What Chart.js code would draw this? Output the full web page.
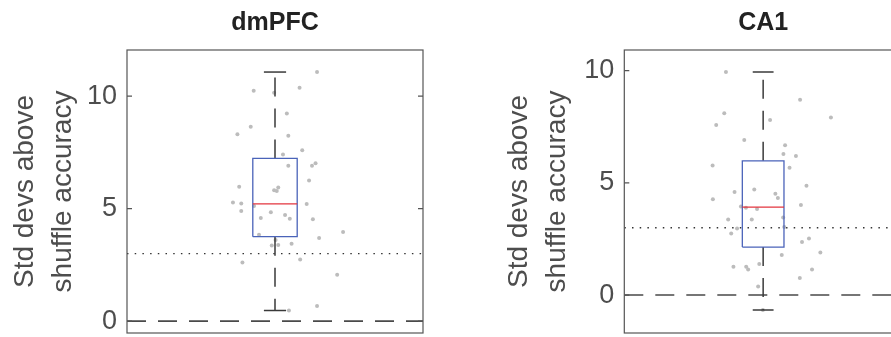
<!DOCTYPE html>
<html><head><meta charset="utf-8">
<script src="https://cdn.jsdelivr.net/npm/chart.js@4/dist/chart.umd.min.js"></script>
<style>
html,body{margin:0;padding:0;background:#fff;overflow:hidden;}
#wrap{position:relative;width:891px;height:337px;overflow:hidden;background:#fff;}
canvas{position:absolute;top:0;}
#c1{left:0;}
#c2{left:445px;}
</style></head><body>
<div id="wrap"><canvas id="c1" width="445" height="337"></canvas><canvas id="c2" width="480" height="337"></canvas></div>
<script>
// ---------- data ----------
const panelTitles = ['dmPFC', 'CA1'];
const yAxisTitle = ['Std devs above', 'shuffle accuracy'];
const yTickValues = [0, 5, 10];
const xLimits = [0.5, 1.5];
const zeroLineValue = 0;
const thresholdValue = 3;
const pfcYLimits = [-0.53, 12.05];
const ca1YLimits = [-1.69, 10.92];
// [lower whisker, Q1, median, Q3, upper whisker]
const pfcStats = [0.47, 3.75, 5.21, 7.23, 11.07];
const ca1Stats = [-0.67, 2.14, 3.92, 5.98, 9.94];
// jittered x positions and values of individual sessions
const pfcJitter = [1.142, 0.928, 0.997, 1.083, 1.040, 0.918, 0.873, 1.045, 1.092, 1.027,
  1.045, 1.125, 1.137, 1.115, 0.879, 0.997, 1.011, 1.006, 0.858, 0.886,
  0.929, 1.107, 0.886, 0.986, 0.952, 1.034, 1.050, 1.128, 1.230, 0.946,
  1.149, 1.002, 0.989, 1.011, 1.056, 1.085, 0.890, 1.210, 1.142, 1.047];
const pfcValues = [11.07, 10.24, 10.15, 10.37, 9.23, 8.64, 8.31, 8.24, 7.59, 7.41,
  6.90, 6.90, 7.02, 6.25, 5.97, 5.82, 5.94, 5.78, 5.27, 5.23,
  5.11, 5.20, 4.89, 4.84, 4.58, 4.71, 4.55, 4.53, 3.96, 3.84,
  3.69, 3.60, 3.36, 3.38, 3.44, 2.74, 2.60, 2.06, 0.67, 0.47];
const ca1Jitter = [0.866, 1.133, 0.860, 1.244, 0.831, 1.025, 0.932, 1.079, 1.073, 1.118,
  0.818, 1.095, 1.156, 0.968, 0.819, 0.897, 1.044, 1.053, 0.920, 0.938,
  0.978, 1.136, 0.874, 0.959, 1.072, 0.906, 1.076, 0.885, 1.140, 1.165,
  1.206, 1.067, 0.986, 0.893, 0.939, 0.946, 1.176, 1.132, 0.982, 0.999];
const ca1Values = [9.94, 8.70, 8.10, 7.91, 7.58, 7.80, 6.91, 6.68, 6.29, 6.20,
  5.77, 5.67, 4.87, 4.70, 4.27, 4.59, 4.51, 4.32, 3.95, 3.89,
  3.84, 4.01, 3.37, 3.37, 3.46, 2.97, 3.03, 2.74, 2.36, 2.52,
  1.90, 1.78, 1.38, 1.26, 1.26, 1.14, 1.14, 0.76, 0.38, -0.67];

// ---------- styling ----------
const FONT = "'Liberation Sans', Arial, Helvetica, sans-serif";
const TEXT = '#4d4d4d';
const BOX_HALF = 0.075, CAP_HALF = 0.0375, CENTER = 1;
const DASH = [19, 12];

const framePlugin = {
  id: 'frame',
  afterDraw(chart) {
    const {ctx, chartArea: a, scales: {y}} = chart;
    ctx.save();
    ctx.strokeStyle = '#555';
    ctx.lineWidth = 1.2;
    ctx.strokeRect(a.left, a.top, a.right - a.left, a.bottom - a.top);
    ctx.beginPath();
    y.ticks.forEach(t => {
      const py = y.getPixelForValue(t.value);
      ctx.moveTo(a.left, py); ctx.lineTo(a.left + 5, py);
      ctx.moveTo(a.right, py); ctx.lineTo(a.right - 5, py);
    });
    ctx.stroke();
    ctx.restore();
  }
};

function lineDs(points, color, width, dash) {
  return {data: points, showLine: true, pointRadius: 0, borderColor: color,
    borderWidth: width, borderDash: dash || [], fill: false, tension: 0};
}

function buildDatasets(stats, jitter, values) {
  const [wLo, q1, med, q3, wHi] = stats;
  const L = CENTER - BOX_HALF, R = CENTER + BOX_HALF;
  return [
    lineDs([{x: L, y: med}, {x: R, y: med}], '#e3343e', 1.3),
    lineDs([{x: L, y: q1}, {x: L, y: q3}, {x: R, y: q3}, {x: R, y: q1}, {x: L, y: q1}], '#4a63b9', 1.3),
    lineDs([{x: CENTER - CAP_HALF, y: wHi}, {x: CENTER + CAP_HALF, y: wHi}], '#3a3a3a', 1.5),
    lineDs([{x: CENTER - CAP_HALF, y: wLo}, {x: CENTER + CAP_HALF, y: wLo}], '#3a3a3a', 1.5),
    lineDs([{x: CENTER, y: q3}, {x: CENTER, y: wHi}], '#3a3a3a', 1.5, DASH),
    lineDs([{x: CENTER, y: q1}, {x: CENTER, y: wLo}], '#3a3a3a', 1.5, DASH),
    {data: values.map((v, i) => ({x: jitter[i], y: v})), showLine: false,
      pointRadius: 2, pointBorderWidth: 0, pointBackgroundColor: '#bcbcbc', borderColor: '#bcbcbc'},
    lineDs([{x: xLimits[0], y: thresholdValue}, {x: xLimits[1], y: thresholdValue}], '#333', 1.4, [1.5, 6.2]),
    lineDs([{x: xLimits[0], y: zeroLineValue}, {x: xLimits[1], y: zeroLineValue}], '#4a4a4a', 1.6, DASH)
  ];
}

function makeChart(id, title, stats, jitter, values, yLim, axisWidth, titlePad, padRight) {
  return new Chart(document.getElementById(id), {
    type: 'scatter',
    data: {datasets: buildDatasets(stats, jitter, values)},
    options: {
      responsive: false, animation: false, devicePixelRatio: 1,
      layout: {padding: {left: 0, right: padRight, top: 0, bottom: 4}},
      plugins: {
        legend: {display: false}, tooltip: {enabled: false},
        title: {display: true, text: title, fullSize: false, color: '#222',
          font: {family: FONT, size: 25, weight: 'bold', lineHeight: 1.2},
          padding: {top: 8, bottom: 12}}
      },
      scales: {
        x: {type: 'linear', min: xLimits[0], max: xLimits[1], display: false},
        y: {type: 'linear', min: yLim[0], max: yLim[1],
          afterFit: s => { s.width = axisWidth; s.paddingTop = 0; s.paddingBottom = 0; },
          afterBuildTicks: s => { s.ticks = yTickValues.map(v => ({value: v})); },
          grid: {display: false, drawTicks: false}, border: {display: false},
          ticks: {color: TEXT, padding: 10, font: {family: FONT, size: 27}},
          title: {display: true, text: yAxisTitle, color: TEXT,
            font: {family: FONT, size: 28, lineHeight: 1.36}, padding: {top: titlePad, bottom: 0}}
        }
      }
    },
    plugins: [framePlugin]
  });
}

makeChart('c1', panelTitles[0], pfcStats, pfcJitter, pfcValues, pfcYLimits, 127, 6, 22);
makeChart('c2', panelTitles[1], ca1Stats, ca1Jitter, ca1Values, ca1YLimits, 179.3, 55, 23);
</script>
</body></html>
